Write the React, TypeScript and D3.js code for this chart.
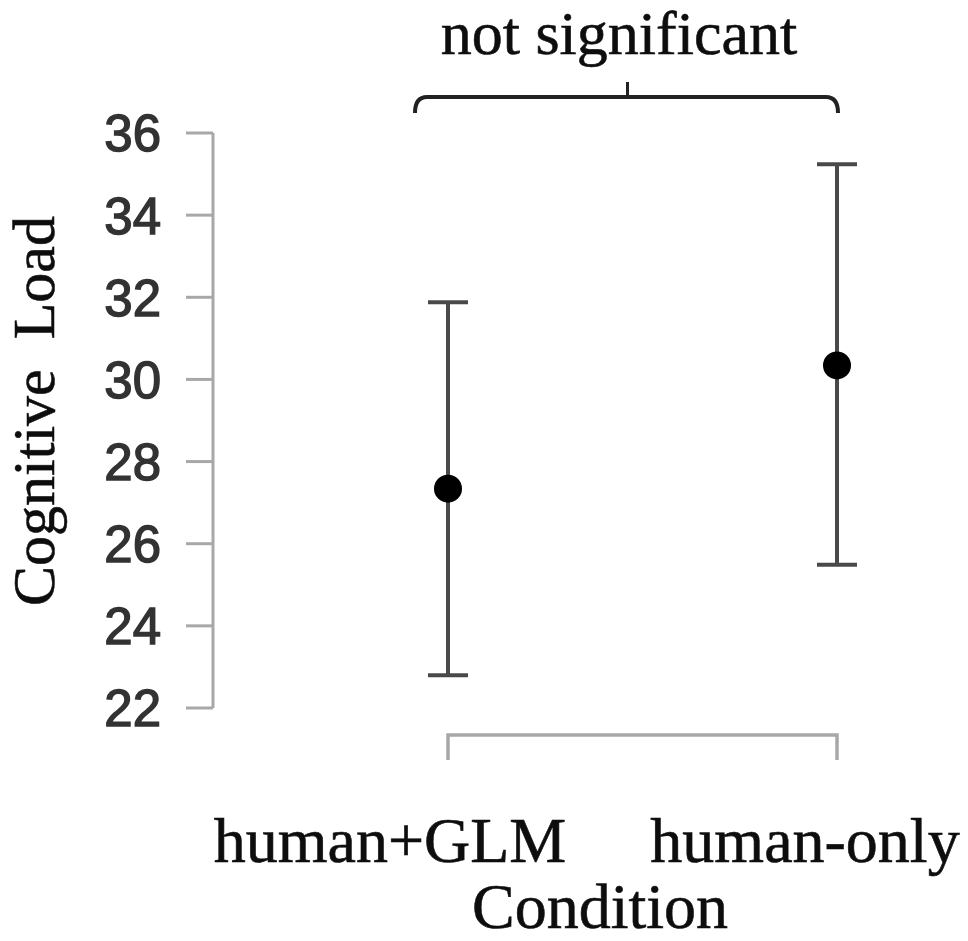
import React from 'react'
import * as d3 from 'd3'

// data
const conditions = ['human+GLM', 'human-only']
const means = [27.34, 30.34]
const ciLow = [22.8, 25.49]
const ciHigh = [31.88, 35.24]
const yTicks = [22, 24, 26, 28, 30, 32, 34, 36]
const sigLabel = 'not significant'

const W = 968
const H = 941
const serif = '"Liberation Serif", "Times New Roman", serif'
const sans = '"Liberation Sans", Arial, sans-serif'

// the category labels sit left of their ticks in the original
const labelShift = [-58, -32]

export default function App() {
  const y = d3.scaleLinear().domain([22, 36]).range([708, 133])
  const x = d3.scalePoint().domain(conditions).range([448, 837])
  const axisX = 213
  const baseY = 735
  const cap = 20

  const x0 = x(conditions[0])
  const x1 = x(conditions[1])
  const brY = 97
  const brL = x0 - 33
  const brR = x1 + 1
  const brMid = (brL + brR) / 2
  const bracket = d3.path()
  bracket.moveTo(brL, brY + 16)
  bracket.quadraticCurveTo(brL, brY, brL + 12, brY)
  bracket.lineTo(brR - 12, brY)
  bracket.quadraticCurveTo(brR, brY, brR, brY + 16)

  return (
    <div style={{ position: 'absolute', left: 0, top: 0 }}>
      <svg width={W} height={H} style={{ display: 'block', background: '#fff' }}>
        <defs>
          <filter id="soft" x="-5%" y="-5%" width="110%" height="110%">
            <feGaussianBlur stdDeviation="0.7" />
          </filter>
        </defs>
        <g filter="url(#soft)">
          {/* y axis */}
          <line x1={axisX} x2={axisX} y1={y(22)} y2={y(36)} stroke="#a8a8a8" strokeWidth={3} />
          {yTicks.map(t => (
            <g key={t}>
              <line x1={axisX - 27} x2={axisX} y1={y(t)} y2={y(t)} stroke="#a8a8a8" strokeWidth={3} />
              <text x={161} y={y(t)} dy="0.36em" textAnchor="end" fontFamily={sans}
                fontSize={51} fill="#333" stroke="#333" strokeWidth={1.4}>{t}</text>
            </g>
          ))}
          <text transform={`translate(54,411) rotate(-90)`} textAnchor="middle" fontFamily={serif}
            fontSize={60} fill="#111" stroke="#111" strokeWidth={0.6} xmlSpace="preserve">Cognitive  Load</text>

          {/* x axis */}
          <path d={`M${x0},${baseY + 25}V${baseY}H${x1}V${baseY + 25}`} fill="none"
            stroke="#a8a8a8" strokeWidth={3.5} />
          {conditions.map((c, i) => (
            <text key={c} x={x(c) + labelShift[i]} y={862} textAnchor="middle" fontFamily={serif}
              fontSize={64} fill="#111" stroke="#111" strokeWidth={0.6}>{c}</text>
          ))}
          <text x={600} y={928} textAnchor="middle" fontFamily={serif} fontSize={64}
            fill="#111" stroke="#111" strokeWidth={0.6}>Condition</text>

          {/* means with confidence intervals */}
          {conditions.map((c, i) => (
            <g key={c}>
              <line x1={x(c)} x2={x(c)} y1={y(ciLow[i])} y2={y(ciHigh[i])} stroke="#4a4a4a" strokeWidth={4} />
              <line x1={x(c) - cap} x2={x(c) + cap} y1={y(ciLow[i])} y2={y(ciLow[i])} stroke="#4a4a4a" strokeWidth={4} />
              <line x1={x(c) - cap} x2={x(c) + cap} y1={y(ciHigh[i])} y2={y(ciHigh[i])} stroke="#4a4a4a" strokeWidth={4} />
              <circle cx={x(c)} cy={y(means[i])} r={14} fill="#000" />
            </g>
          ))}

          {/* significance bracket */}
          <path d={bracket.toString()} fill="none" stroke="#222" strokeWidth={4} />
          <line x1={brMid + 1} x2={brMid + 1} y1={brY} y2={brY - 15} stroke="#222" strokeWidth={3} />
          <text x={619} y={54} textAnchor="middle" fontFamily={serif} fontSize={62}
            fill="#111" stroke="#111" strokeWidth={0.6}>{sigLabel}</text>
        </g>
      </svg>
    </div>
  )
}
